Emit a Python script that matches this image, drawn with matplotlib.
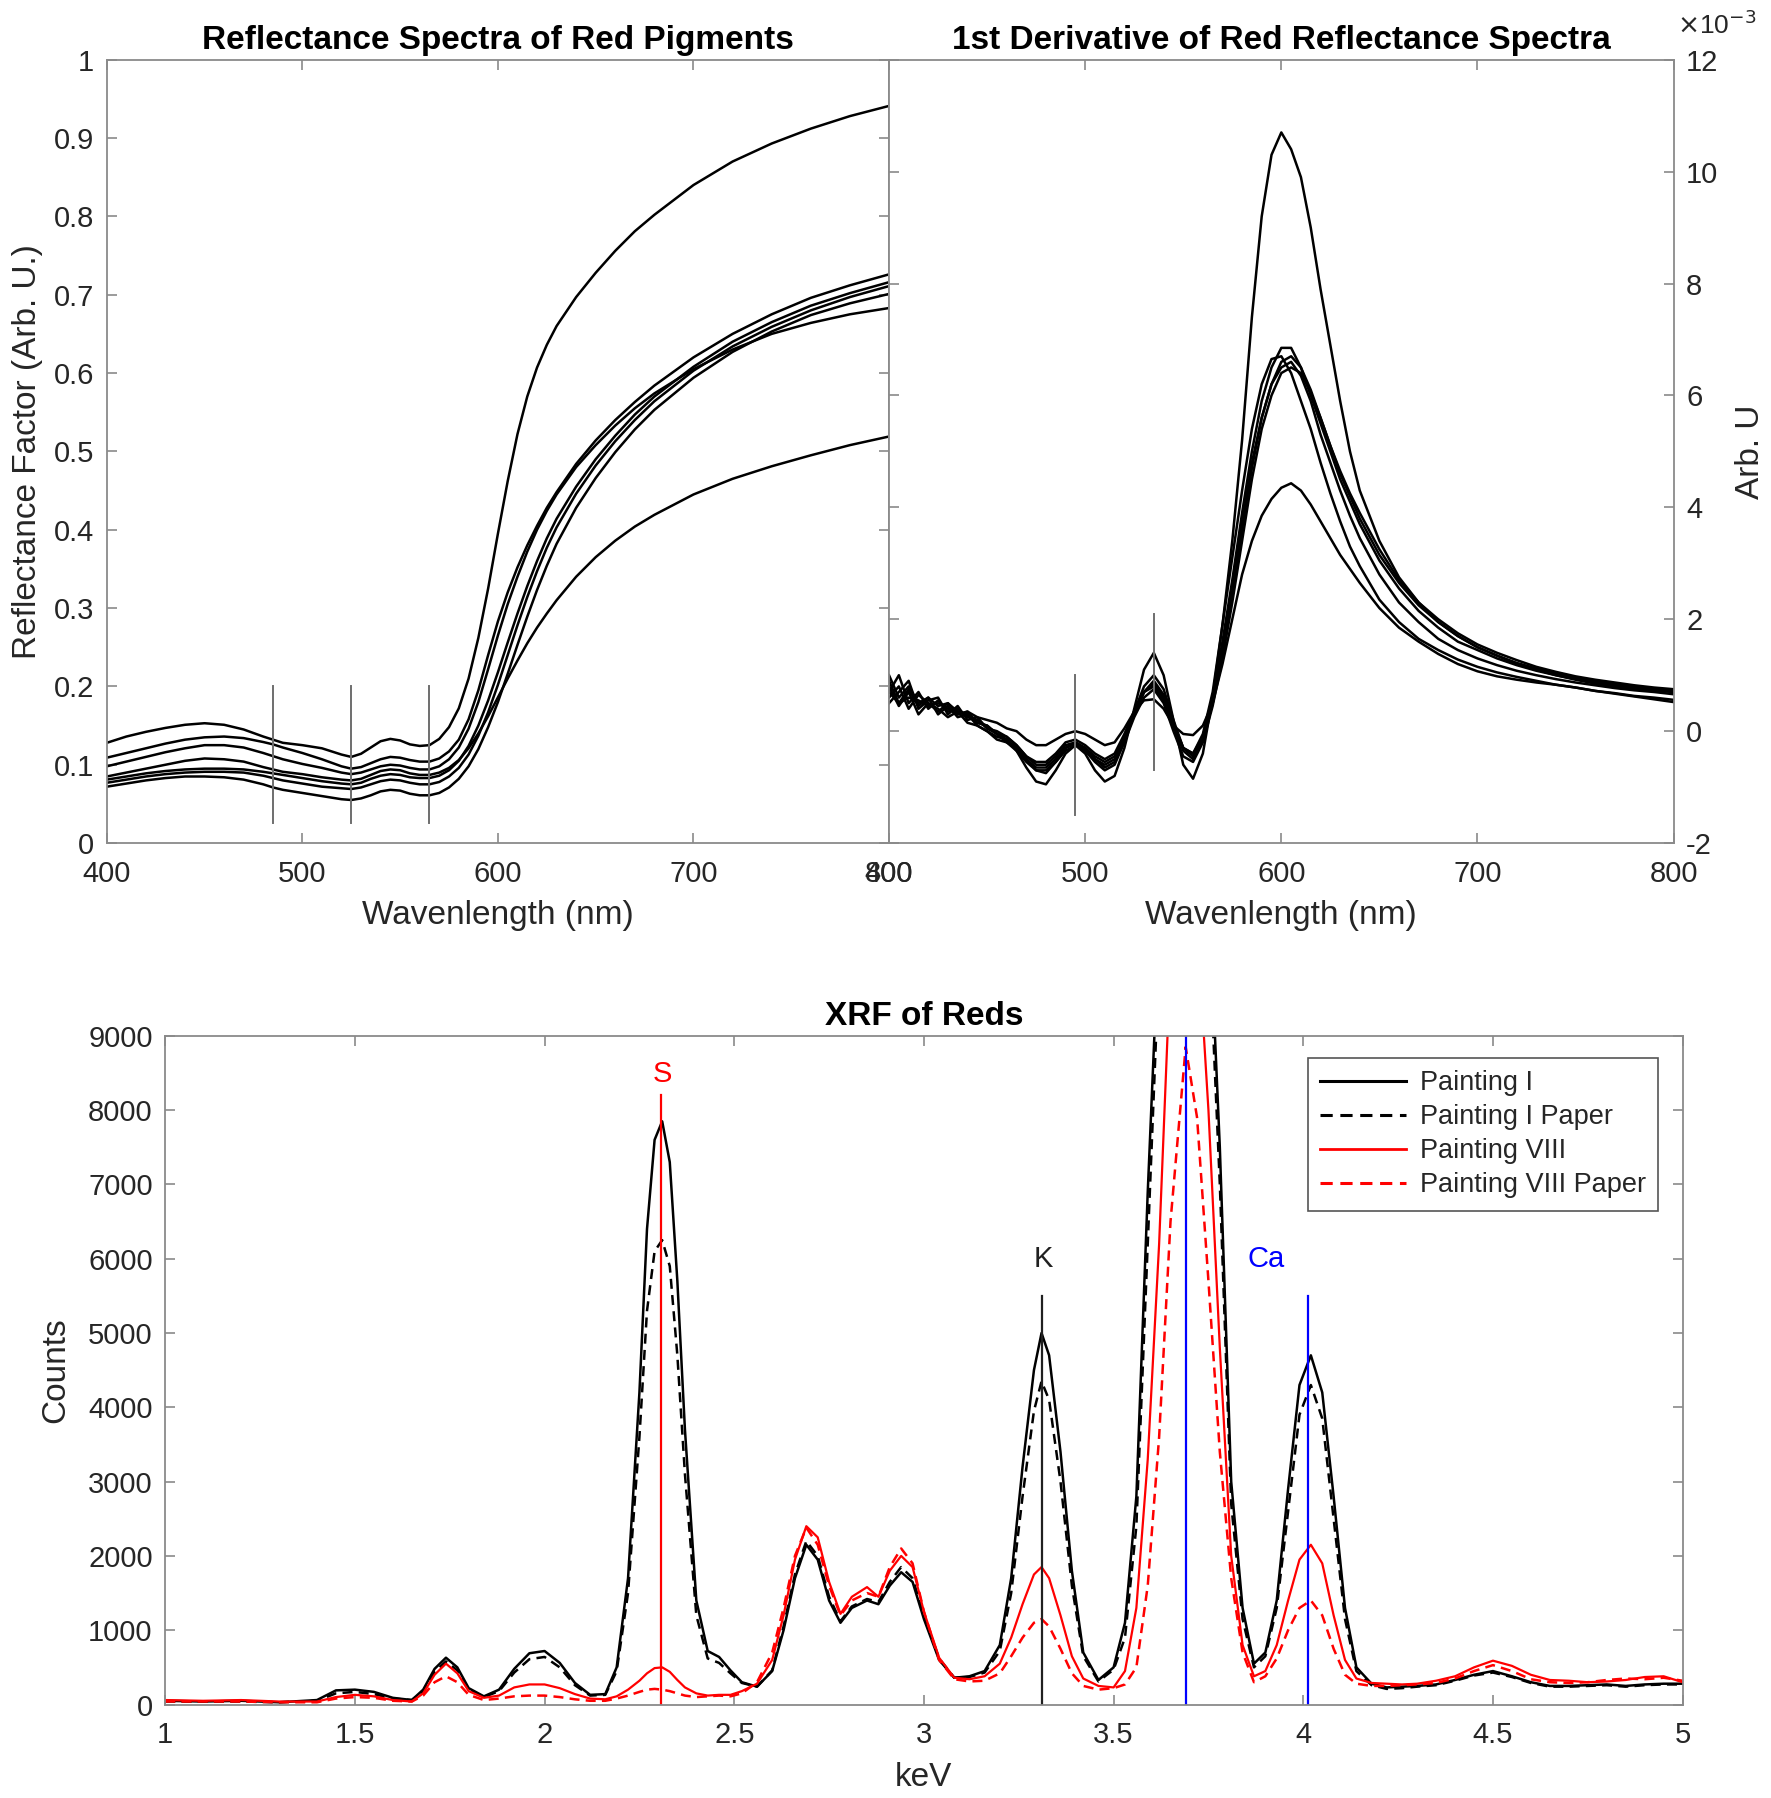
import matplotlib
matplotlib.use('Agg')
import matplotlib.pyplot as plt
from matplotlib.lines import Line2D
import numpy as np

plt.rcParams['font.family'] = ['Liberation Sans', 'DejaVu Sans']
plt.rcParams['axes.unicode_minus'] = False

# ---------------- Reflectance spectra (panel 1) ----------------
wl_r = [400, 410, 420, 430, 440, 450, 460, 470, 480, 485, 490, 500, 510, 520, 525, 530, 535, 540,
        545, 550, 555, 560, 565, 570, 575, 580, 585, 590, 595, 600, 605, 610, 615, 620, 625, 630,
        640, 650, 660, 670, 680, 700, 720, 740, 760, 780, 800]
refl_A = [.128, .136, .142, .147, .151, .153, .151, .145, .136, .132, .128, .125, .121, .113, .110, .114, .122, .130,
          .133, .131, .126, .124, .125, .133, .148, .172, .210, .262, .325, .395, .462, .522, .570, .607, .636, .660,
          .697, .728, .756, .781, .802, .840, .870, .893, .912, .928, .941]
refl_B = [.109, .115, .121, .127, .132, .135, .136, .134, .129, .126, .122, .115, .107, .098, .095, .097, .102, .107,
          .110, .109, .106, .104, .104, .108, .117, .132, .158, .195, .240, .283, .320, .352, .380, .405, .428, .448,
          .484, .514, .540, .563, .584, .620, .650, .675, .696, .712, .726]
refl_C = [.098, .104, .110, .116, .121, .125, .125, .122, .115, .111, .107, .101, .096, .090, .088, .090, .094, .098,
          .100, .099, .096, .094, .094, .098, .107, .122, .146, .180, .222, .265, .305, .340, .372, .400, .424, .445,
          .480, .508, .533, .555, .574, .605, .630, .650, .664, .675, .683]
refl_D = [.085, .090, .095, .100, .105, .108, .107, .104, .097, .094, .091, .088, .084, .081, .080, .082, .087, .092,
          .094, .093, .089, .087, .087, .090, .096, .106, .121, .140, .162, .186, .210, .233, .255, .275, .293, .310,
          .340, .365, .386, .404, .419, .445, .465, .481, .495, .508, .519]
refl_E = [.081, .085, .089, .092, .094, .095, .095, .094, .091, .089, .087, .083, .079, .076, .075, .077, .082, .086,
          .088, .087, .084, .083, .083, .086, .093, .105, .124, .150, .182, .218, .256, .293, .328, .360, .389, .414,
          .455, .490, .520, .547, .570, .608, .640, .665, .686, .702, .716]
refl_F = [.077, .081, .085, .088, .090, .091, .091, .090, .086, .083, .080, .076, .072, .070, .069, .071, .075, .079,
          .081, .080, .077, .075, .075, .078, .085, .096, .113, .137, .167, .202, .240, .278, .314, .347, .377, .403,
          .446, .482, .513, .540, .564, .603, .634, .659, .680, .697, .711]
refl_G = [.072, .076, .080, .083, .085, .085, .084, .081, .075, .071, .068, .064, .060, .056, .055, .057, .061, .066,
          .068, .067, .063, .061, .061, .064, .071, .082, .098, .120, .148, .180, .216, .253, .289, .323, .354, .382,
          .428, .466, .499, .528, .553, .594, .627, .653, .674, .689, .701]
refl_marks = [485, 525, 565]
refl_mark_range = [0.025, 0.2]
refl_yticks = [0, 0.1, 0.2, 0.3, 0.4, 0.5, 0.6, 0.7, 0.8, 0.9, 1]
refl_yticklabels = ['0', '0.1', '0.2', '0.3', '0.4', '0.5', '0.6', '0.7', '0.8', '0.9', '1']
wl_ticks = [400, 500, 600, 700, 800]

# ---------------- First derivative (panel 2), units of 1e-3 ----------------
wl_d = [400, 405, 410, 415, 420, 425, 430, 435, 440, 445, 450, 455, 460, 465, 470, 475, 480, 485, 490,
        495, 500, 505, 510, 515, 520, 525, 530, 535, 540, 545, 550, 555, 560, 565, 570, 575, 580, 585,
        590, 595, 600, 605, 610, 615, 620, 625, 630, 635, 640,
        650, 660, 670, 680, 690, 700, 710, 720, 730, 740, 750, 760, 770, 780, 790, 800]
der_1 = [1.0, 0.6, 0.8, 0.5, 0.6, 0.45, 0.5, 0.35, 0.3, 0.15, 0.1, -0.05, -0.15, -0.35, -0.65, -0.9, -0.95, -0.7, -0.4,
         -0.25, -0.4, -0.7, -0.9, -0.8, -0.3, 0.4, 1.1, 1.4, 1.0, 0.2, -0.6, -0.85, -0.4, 0.6, 1.9, 3.4, 5.2, 7.4,
         9.2, 10.3, 10.7, 10.4, 9.9, 9.0, 7.9, 6.9, 5.9, 5.0, 4.3,
         3.4, 2.75, 2.3, 1.95, 1.7, 1.5, 1.35, 1.2, 1.1, 1.0, 0.92, 0.85, 0.8, 0.75, 0.72, 0.7]
der_2 = [0.7, 1.0, 0.5, 0.7, 0.4, 0.55, 0.35, 0.4, 0.25, 0.2, 0.05, 0.0, -0.1, -0.25, -0.45, -0.6, -0.6, -0.45, -0.25,
         -0.2, -0.3, -0.45, -0.55, -0.45, -0.1, 0.35, 0.8, 1.0, 0.75, 0.2, -0.3, -0.45, -0.1, 0.6, 1.6, 2.7, 3.9, 5.0,
         5.9, 6.5, 6.85, 6.85, 6.5, 6.0, 5.5, 5.0, 4.5, 4.1, 3.7,
         3.05, 2.55, 2.15, 1.85, 1.6, 1.45, 1.3, 1.18, 1.08, 1.0, 0.93, 0.87, 0.82, 0.78, 0.75, 0.72]
der_3 = [0.9, 0.5, 0.75, 0.45, 0.6, 0.3, 0.45, 0.25, 0.3, 0.1, 0.0, -0.1, -0.15, -0.3, -0.5, -0.65, -0.65, -0.5, -0.3,
         -0.2, -0.3, -0.5, -0.6, -0.5, -0.15, 0.3, 0.7, 0.9, 0.65, 0.15, -0.3, -0.4, -0.05, 0.7, 1.9, 3.1, 4.3, 5.4,
         6.2, 6.65, 6.7, 6.4, 5.9, 5.4, 4.8, 4.25, 3.75, 3.3, 2.95,
         2.35, 1.95, 1.65, 1.45, 1.28, 1.15, 1.05, 0.97, 0.9, 0.83, 0.78, 0.72, 0.68, 0.63, 0.6, 0.56]
der_4 = [0.6, 0.8, 0.4, 0.65, 0.5, 0.35, 0.5, 0.3, 0.35, 0.15, 0.1, -0.05, -0.2, -0.3, -0.5, -0.7, -0.7, -0.55, -0.3,
         -0.22, -0.35, -0.5, -0.65, -0.55, -0.15, 0.3, 0.7, 0.85, 0.6, 0.1, -0.35, -0.5, -0.15, 0.5, 1.4, 2.4, 3.6, 4.7,
         5.6, 6.2, 6.6, 6.7, 6.5, 6.1, 5.6, 5.1, 4.6, 4.2, 3.8,
         3.15, 2.65, 2.25, 1.95, 1.7, 1.5, 1.35, 1.22, 1.12, 1.03, 0.96, 0.9, 0.85, 0.8, 0.76, 0.73]
der_5 = [0.5, 0.7, 0.9, 0.4, 0.55, 0.6, 0.3, 0.45, 0.2, 0.25, 0.05, -0.05, -0.1, -0.25, -0.45, -0.55, -0.55, -0.4, -0.2,
         -0.15, -0.25, -0.4, -0.5, -0.4, -0.05, 0.35, 0.7, 0.8, 0.55, 0.1, -0.3, -0.4, -0.1, 0.55, 1.5, 2.5, 3.7, 4.8,
         5.6, 6.2, 6.5, 6.6, 6.35, 5.9, 5.3, 4.8, 4.3, 3.85, 3.45,
         2.8, 2.3, 1.95, 1.65, 1.45, 1.3, 1.18, 1.08, 1.0, 0.93, 0.87, 0.82, 0.77, 0.73, 0.7, 0.66]
der_6 = [0.8, 0.45, 0.7, 0.3, 0.5, 0.4, 0.25, 0.35, 0.15, 0.1, 0.0, -0.15, -0.2, -0.35, -0.55, -0.7, -0.75, -0.55, -0.35,
         -0.25, -0.35, -0.55, -0.7, -0.6, -0.2, 0.25, 0.6, 0.75, 0.5, 0.0, -0.45, -0.55, -0.2, 0.45, 1.3, 2.3, 3.4, 4.5,
         5.4, 6.0, 6.4, 6.5, 6.4, 6.05, 5.6, 5.1, 4.65, 4.25, 3.9,
         3.25, 2.7, 2.3, 2.0, 1.75, 1.55, 1.4, 1.27, 1.15, 1.06, 0.98, 0.92, 0.87, 0.82, 0.78, 0.75]
der_7 = [0.7, 0.5, 0.6, 0.55, 0.45, 0.5, 0.4, 0.3, 0.35, 0.25, 0.2, 0.15, 0.05, 0.0, -0.15, -0.25, -0.25, -0.15, -0.05,
         0.0, -0.05, -0.15, -0.25, -0.2, 0.05, 0.35, 0.55, 0.57, 0.4, 0.1, -0.05, -0.07, 0.1, 0.5, 1.2, 2.0, 2.8, 3.4,
         3.85, 4.15, 4.35, 4.43, 4.3, 4.05, 3.75, 3.45, 3.15, 2.9, 2.65,
         2.2, 1.85, 1.6, 1.38, 1.2, 1.07, 0.98, 0.92, 0.87, 0.83, 0.78, 0.72, 0.67, 0.62, 0.57, 0.52]
der_marks = [495, 535]
der_mark_ranges = [[-1.5, 1.0], [-0.7, 2.1]]
der_yticks = [-2, 0, 2, 4, 6, 8, 10, 12]
der_yticklabels = ['-2', '0', '2', '4', '6', '8', '10', '12']

# ---------------- XRF (panel 3) ----------------
kev = [1.00, 1.10, 1.20, 1.30, 1.40, 1.45, 1.50, 1.55, 1.60, 1.65,
       1.68, 1.71, 1.74, 1.77, 1.80, 1.84, 1.88, 1.92, 1.96, 2.00,
       2.04, 2.08, 2.12, 2.16, 2.19, 2.22, 2.25, 2.27, 2.29, 2.31,
       2.33, 2.35, 2.37, 2.40, 2.43, 2.46, 2.49, 2.52, 2.56, 2.60,
       2.63, 2.66, 2.69, 2.72, 2.75, 2.78, 2.81, 2.85, 2.88, 2.91,
       2.94, 2.97, 3.00, 3.04, 3.08, 3.12, 3.16, 3.20, 3.23, 3.26,
       3.29, 3.31, 3.33, 3.36, 3.39, 3.42, 3.46, 3.50, 3.53, 3.56,
       3.59, 3.62, 3.65, 3.69, 3.72, 3.75, 3.78, 3.81, 3.84, 3.87,
       3.90, 3.93, 3.96, 3.99, 4.02, 4.05, 4.08, 4.11, 4.14, 4.18,
       4.22, 4.26, 4.30, 4.35, 4.40, 4.45, 4.50, 4.55, 4.60, 4.65,
       4.70, 4.75, 4.80, 4.85, 4.90, 4.95, 5.00]
painting_I = [50, 40, 50, 30, 60, 190, 200, 170, 90, 60,
              200, 480, 630, 500, 220, 110, 200, 480, 690, 720,
              560, 290, 130, 140, 500, 1700, 4200, 6400, 7600, 7850,
              7300, 5700, 3700, 1400, 720, 640, 460, 300, 240, 450,
              1000, 1700, 2150, 1950, 1400, 1100, 1300, 1400, 1350, 1600,
              1780, 1650, 1150, 600, 360, 380, 450, 800, 1700, 3200,
              4500, 5000, 4700, 3400, 1800, 700, 330, 500, 1100, 2800,
              6900, 10500, 14000, 15000, 14000, 11000, 7500, 3000, 1300, 550,
              700, 1400, 2900, 4300, 4700, 4200, 2800, 1300, 500, 280,
              230, 240, 250, 270, 330, 400, 450, 380, 300, 250,
              250, 260, 270, 250, 270, 280, 280]
painting_I_paper = [40, 40, 40, 30, 50, 150, 170, 140, 80, 60,
                    180, 440, 580, 460, 200, 100, 180, 430, 610, 640,
                    500, 260, 120, 130, 450, 1500, 3600, 5300, 6100, 6250,
                    5900, 4700, 3100, 1200, 620, 560, 420, 290, 240, 460,
                    1050, 1750, 2200, 2000, 1450, 1120, 1320, 1420, 1380, 1650,
                    1850, 1700, 1200, 620, 360, 370, 430, 720, 1500, 2800,
                    3950, 4350, 4100, 3000, 1600, 650, 310, 470, 900, 2400,
                    6200, 10000, 13500, 14500, 13500, 10500, 7000, 2700, 1150, 500,
                    650, 1300, 2600, 3900, 4300, 3850, 2500, 1150, 450, 260,
                    210, 220, 240, 260, 320, 390, 430, 370, 290, 240,
                    240, 250, 260, 240, 260, 270, 270]
painting_VIII = [60, 50, 60, 40, 40, 100, 130, 110, 60, 40,
                 150, 400, 550, 420, 180, 90, 120, 230, 270, 270,
                 220, 140, 80, 70, 110, 200, 320, 420, 490, 500,
                 440, 330, 230, 150, 120, 130, 130, 180, 280, 600,
                 1200, 1950, 2400, 2250, 1650, 1220, 1450, 1580, 1450, 1800,
                 2000, 1850, 1250, 630, 360, 340, 380, 550, 900, 1350,
                 1750, 1850, 1700, 1200, 650, 350, 250, 230, 450, 1300,
                 3300, 6200, 10000, 12000, 10500, 8000, 4800, 2000, 800, 380,
                 450, 800, 1400, 1950, 2150, 1900, 1200, 600, 350, 290,
                 280, 270, 280, 320, 380, 500, 590, 520, 400, 330,
                 320, 300, 310, 330, 370, 380, 300]
painting_VIII_paper = [40, 40, 40, 30, 30, 80, 100, 90, 50, 40,
                       120, 300, 380, 300, 130, 60, 80, 110, 120, 120,
                       100, 70, 50, 50, 80, 120, 170, 200, 210, 200,
                       180, 150, 120, 100, 110, 120, 110, 150, 300, 700,
                       1300, 2000, 2380, 2150, 1600, 1200, 1400, 1500, 1450, 1850,
                       2100, 1900, 1250, 600, 340, 310, 320, 420, 650, 900,
                       1100, 1150, 1050, 750, 420, 250, 200, 220, 270, 500,
                       1600, 3600, 6500, 8850, 7900, 5700, 3400, 1700, 700, 300,
                       380, 620, 1000, 1300, 1400, 1200, 750, 400, 280, 250,
                       250, 260, 270, 290, 350, 450, 530, 450, 340, 300,
                       290, 300, 330, 350, 340, 360, 320]
xrf_labels = ['Painting I', 'Painting I Paper', 'Painting VIII', 'Painting VIII Paper']
element_lines = [(2.307, 8200, 'red'), (3.312, 5500, 'black'), (3.690, 9500, 'blue'), (4.012, 5500, 'blue')]
element_text = [('S', 2.31, 8480, 'red'), ('K', 3.316, 5990, 'black'), ('Ca', 3.903, 5990, 'blue')]
kev_ticks = [1, 1.5, 2, 2.5, 3, 3.5, 4, 4.5, 5]
kev_ticklabels = ['1', '1.5', '2', '2.5', '3', '3.5', '4', '4.5', '5']
count_ticks = [0, 1000, 2000, 3000, 4000, 5000, 6000, 7000, 8000, 9000]

# ---------------- Figure ----------------
TXT = '#262626'
SPINE = '#8a8a8a'
TICK_FS = 21
LABEL_FS = 24
TITLE_FS = 24
fig = plt.figure(figsize=(17.71, 17.98), dpi=100)
ax1 = fig.add_axes([0.0603, 0.5311, 0.4417, 0.4357])
ax2 = fig.add_axes([0.5020, 0.5311, 0.4430, 0.4357])
ax3 = fig.add_axes([0.0933, 0.0520, 0.8568, 0.3719])


def style(ax):
    for s in ax.spines.values():
        s.set_color(SPINE)
        s.set_linewidth(1.3)
    ax.tick_params(which='both', direction='in', length=7, width=1.2, color=SPINE,
                   labelcolor=TXT, labelsize=TICK_FS, top=True, right=True)
    ax.tick_params(axis='x', pad=12)
    ax.tick_params(axis='y', pad=9)


# panel 1
for y in [refl_A, refl_B, refl_C, refl_D, refl_E, refl_F, refl_G]:
    ax1.plot(wl_r, y, color='black', lw=1.8)
for m in refl_marks:
    ax1.plot([m, m], refl_mark_range, color='#6e6e6e', lw=1.4)
ax1.set_xlim(400, 800)
ax1.set_ylim(0, 1)
ax1.set_xticks(wl_ticks)
ax1.set_yticks(refl_yticks)
ax1.set_yticklabels(refl_yticklabels)
style(ax1)
ax1.set_xlabel('Wavenlength (nm)', fontsize=LABEL_FS, color=TXT, labelpad=9)
ax1.set_ylabel('Reflectance Factor (Arb. U.)', fontsize=LABEL_FS, color=TXT, labelpad=8)
ax1.set_title('Reflectance Spectra of Red Pigments', fontsize=TITLE_FS, fontweight='bold', pad=8)

# panel 2
for y in [der_1, der_2, der_3, der_4, der_5, der_6, der_7]:
    ax2.plot(wl_d, y, color='black', lw=1.8)
for m, r in zip(der_marks, der_mark_ranges):
    ax2.plot([m, m], r, color='#6e6e6e', lw=1.4)
ax2.set_xlim(400, 800)
ax2.set_ylim(-2, 12)
ax2.set_xticks(wl_ticks)
ax2.set_yticks(der_yticks)
ax2.set_yticklabels(der_yticklabels)
style(ax2)
ax2.tick_params(axis='y', labelleft=False, labelright=True)
ax2.yaxis.set_label_position('right')
ax2.set_xlabel('Wavenlength (nm)', fontsize=LABEL_FS, color=TXT, labelpad=9)
ax2.set_ylabel('Arb. U', fontsize=LABEL_FS, color=TXT, labelpad=12)
ax2.set_title('1st Derivative of Red Reflectance Spectra', fontsize=TITLE_FS, fontweight='bold', pad=8)
ax2.text(1.004, 1.044, r'$\times$10$^{-3}$', transform=ax2.transAxes, fontsize=19,
         color=TXT, ha='left', va='center')

# panel 3
ax3.plot(kev, painting_I, color='black', lw=1.8, ls='-')
ax3.plot(kev, painting_I_paper, color='black', lw=1.8, ls=(0, (4, 2.5)))
ax3.plot(kev, painting_VIII, color='#ff0000', lw=1.6, ls='-')
ax3.plot(kev, painting_VIII_paper, color='#ff0000', lw=1.8, ls=(0, (4, 2.5)))
for x, top, c in element_lines:
    col = {'red': '#ff0000', 'black': '#202020', 'blue': '#0000ff'}[c]
    ax3.plot([x, x], [0, top], color=col, lw=1.6)
for t, x, y, c in element_text:
    col = {'red': '#ff0000', 'black': '#202020', 'blue': '#0000ff'}[c]
    ax3.text(x, y, t, color=col, fontsize=21, ha='center', va='center')
ax3.set_xlim(1, 5)
ax3.set_ylim(0, 9000)
ax3.set_xticks(kev_ticks)
ax3.set_xticklabels(kev_ticklabels)
ax3.set_yticks(count_ticks)
ax3.set_yticklabels([str(v) for v in count_ticks])
style(ax3)
ax3.set_xlabel('keV', fontsize=LABEL_FS, color=TXT, labelpad=9)
ax3.set_ylabel('Counts', fontsize=LABEL_FS, color=TXT, labelpad=12)
ax3.set_title('XRF of Reds', fontsize=TITLE_FS, fontweight='bold', pad=8)

handles = [Line2D([], [], color='black', lw=2.2, ls='-'),
           Line2D([], [], color='black', lw=2.2, ls=(0, (4, 2.5))),
           Line2D([], [], color='#ff0000', lw=2.0, ls='-'),
           Line2D([], [], color='#ff0000', lw=2.2, ls=(0, (4, 2.5)))]
leg = ax3.legend(handles, xrf_labels, loc='upper right', bbox_to_anchor=(0.984, 0.967),
                 fontsize=19.5, frameon=True, fancybox=False, framealpha=1, edgecolor='#555555',
                 handlelength=3.2, handletextpad=0.5, labelspacing=0.3, borderpad=0.45,
                 borderaxespad=0)
for t in leg.get_texts():
    t.set_color(TXT)
leg.get_frame().set_linewidth(1.2)

fig.savefig('out.png', dpi=100, facecolor='white')
